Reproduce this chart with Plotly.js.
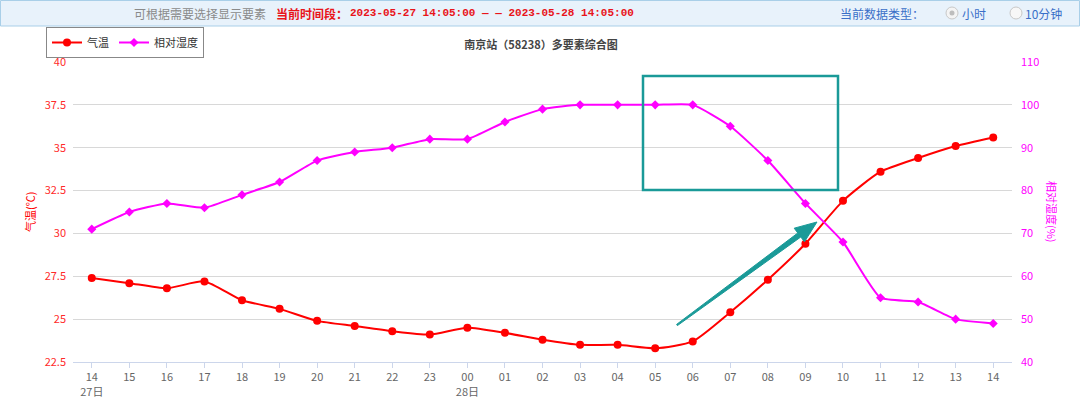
<!DOCTYPE html>
<html>
<head>
<meta charset="utf-8">
<script src="https://cdn.plot.ly/plotly-3.0.1.min.js"></script>
<style>
html,body{margin:0;padding:0;background:#fff;}
#chart{width:1080px;height:397px;}
</style>
</head>
<body>
<div id="chart"></div>
<script>
// ---- data ----
const hours = ['14','15','16','17','18','19','20','21','22','23','00','01','02','03','04','05','06','07','08','09','10','11','12','13','14'];
const dayLabels = {0: '27日', 10: '28日'};
const temperature = [27.4,27.1,26.8,27.2,26.1,25.6,24.9,24.6,24.3,24.1,24.5,24.2,23.8,23.5,23.5,23.3,23.7,25.4,27.3,29.4,31.9,33.6,34.4,35.1,35.6];
const humidity = [71,75,77,76,79,82,87,89,90,92,92,96,99,100,100,100,100,95,87,77,68,55,54,50,49];
const tempTicks = [22.5,25,27.5,30,32.5,35,37.5,40];
const humTicks = [40,50,60,70,80,90,100,110];

// ---- layout helpers (pixel -> paper) ----
const W = 1080, H = 397, L = 73, R = 68, T = 62, B = 35;
const PW = W - L - R, PH = H - T - B;
const px = x => (x - L) / PW;
const py = y => (H - B - y) / PH;

const idx = hours.map((_, i) => i);
const tickText = hours.map((h, i) => dayLabels[i] ? h + '<br>' + dayLabels[i] : h);

const font = '"Noto Sans CJK SC", "Noto Sans", sans-serif';

const traces = [
  {
    x: idx, y: temperature, name: '气温', type: 'scatter', mode: 'lines+markers',
    line: {color: '#ff0000', width: 2, shape: 'spline', smoothing: 0.6},
    marker: {color: '#ff0000', size: 8, symbol: 'circle'},
    yaxis: 'y', hoverinfo: 'y'
  },
  {
    x: idx, y: humidity, name: '相对湿度', type: 'scatter', mode: 'lines+markers',
    line: {color: '#ff00ff', width: 2, shape: 'spline', smoothing: 0.5},
    marker: {color: '#ff00ff', size: 7, symbol: 'diamond'},
    yaxis: 'y2', hoverinfo: 'y'
  }
];

// arrow polygon (pixel coords)
const arrowPts = [[677.4,325.6],[800.8,237.0],[804.5,241.8],[817,222],[794.2,228.2],[797.8,233.0],[676.6,324.4]];
const arrowPath = 'M' + arrowPts.map(p => px(p[0]).toFixed(5) + ',' + py(p[1]).toFixed(5)).join(' L') + ' Z';

const shapes = [
  // header bar
  {type: 'rect', xref: 'paper', yref: 'paper', x0: px(0.5), x1: px(1079.5), y0: py(26), y1: py(0.5),
   fillcolor: '#e8f2fb', line: {color: '#a9cfe8', width: 1}, layer: 'below'},
  // radio buttons
  {type: 'circle', xref: 'paper', yref: 'paper', x0: px(946), x1: px(958), y0: py(19), y1: py(7),
   fillcolor: '#f4f4f4', line: {color: '#c8c8c8', width: 1}},
  {type: 'circle', xref: 'paper', yref: 'paper', x0: px(949.5), x1: px(954.5), y0: py(15.5), y1: py(10.5),
   fillcolor: '#bdbdbd', line: {color: '#bdbdbd', width: 0}},
  {type: 'circle', xref: 'paper', yref: 'paper', x0: px(1010), x1: px(1022), y0: py(19), y1: py(7),
   fillcolor: '#f7f7f7', line: {color: '#c8c8c8', width: 1}},
  // teal box
  {type: 'rect', xref: 'paper', yref: 'paper', x0: px(643), x1: px(838), y0: py(190), y1: py(76),
   fillcolor: 'rgba(0,0,0,0)', line: {color: '#1a9a98', width: 2.5}},
  // teal arrow
  {type: 'path', xref: 'paper', yref: 'paper', path: arrowPath,
   fillcolor: '#1a9a98', line: {color: '#1a9a98', width: 1}}
];

const annotations = [
  {xref: 'paper', yref: 'paper', x: px(268), y: py(13), xanchor: 'right', yanchor: 'middle', showarrow: false,
   text: '可根据需要选择显示要素', font: {family: font, size: 12, color: '#8a8a8a'}},
  {xref: 'paper', yref: 'paper', x: px(274), y: py(13), xanchor: 'left', yanchor: 'middle', showarrow: false,
   text: '<b>当前时间段：</b>', font: {family: font, size: 12, color: '#e8141a'}},
  {xref: 'paper', yref: 'paper', x: px(348), y: py(13), xanchor: 'left', yanchor: 'middle', showarrow: false,
   text: '<b>2023-05-27 14:05:00 -- 2023-05-28 14:05:00</b>'.replace('--', '—&nbsp;—'),
   font: {family: '"Liberation Mono", "DejaVu Sans Mono", monospace', size: 11, color: '#e8141a'}},
  {xref: 'paper', yref: 'paper', x: px(926), y: py(13), xanchor: 'right', yanchor: 'middle', showarrow: false,
   text: '当前数据类型：', font: {family: font, size: 12, color: '#3a6fc8'}},
  {xref: 'paper', yref: 'paper', x: px(960), y: py(13), xanchor: 'left', yanchor: 'middle', showarrow: false,
   text: '小时', font: {family: font, size: 12, color: '#3a6fc8'}},
  {xref: 'paper', yref: 'paper', x: px(1023), y: py(13), xanchor: 'left', yanchor: 'middle', showarrow: false,
   text: '10分钟', font: {family: font, size: 12, color: '#3a6fc8'}},
  // axis titles
  {xref: 'paper', yref: 'paper', x: px(30), y: py(212), xanchor: 'center', yanchor: 'middle', showarrow: false,
   textangle: -90, text: '气温(℃)', font: {family: font, size: 11, color: '#ff0000'}},
  {xref: 'paper', yref: 'paper', x: px(1052), y: py(212), xanchor: 'center', yanchor: 'middle', showarrow: false,
   textangle: 90, text: '相对湿度(%)', font: {family: font, size: 11, color: '#ff00ff'}}
];

const layout = {
  width: W, height: H,
  margin: {l: L, r: R, t: T, b: B, pad: 0},
  paper_bgcolor: '#ffffff', plot_bgcolor: '#ffffff',
  font: {family: font, size: 11, color: '#666'},
  title: {text: '<b>南京站（58238）多要素综合图</b>', x: px(541), xref: 'paper', xanchor: 'center',
          y: 1 - 45 / H, yref: 'container', yanchor: 'middle', font: {family: font, size: 11, color: '#444'}},
  showlegend: true,
  legend: {orientation: 'h', x: px(46), y: py(27), xanchor: 'left', yanchor: 'top',
           bgcolor: '#ffffff', bordercolor: '#888', borderwidth: 1,
           font: {family: font, size: 11, color: '#333'}, itemwidth: 30, tracegroupgap: 0},
  xaxis: {
    range: [-0.5, 24.5], tickmode: 'array', tickvals: idx, ticktext: tickText,
    showgrid: false, zeroline: false, showline: true, linecolor: '#ccd6eb', linewidth: 1,
    ticks: 'outside', ticklen: 5, tickcolor: '#ccd6eb',
    tickfont: {family: font, size: 11, color: '#666'}, fixedrange: true
  },
  yaxis: {
    range: [22.5, 40], tickmode: 'array', tickvals: tempTicks,
    showgrid: true, gridcolor: '#d8d8d8', zeroline: false, showline: false,
    tickfont: {family: font, size: 11, color: '#ff2a2a'}, ticks: '', ticklabelstandoff: 6
  },
  yaxis2: {
    range: [40, 110], tickmode: 'array', tickvals: humTicks, overlaying: 'y', side: 'right',
    showgrid: false, zeroline: false, showline: false,
    tickfont: {family: font, size: 11, color: '#ff00ff'}, ticks: '', ticklabelstandoff: 8
  },
  shapes: shapes,
  annotations: annotations
};

Plotly.newPlot('chart', traces, layout, {displayModeBar: false, staticPlot: true});
</script>
</body>
</html>
